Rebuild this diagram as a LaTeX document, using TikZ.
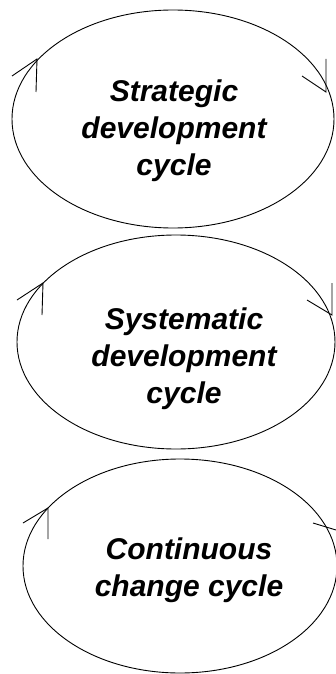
\documentclass[tikz,border=0pt]{standalone}
\usepackage{fontspec}
\setmainfont{Liberation Sans}
\begin{document}
\begin{tikzpicture}[x=1pt,y=-1pt,
  cyc/.style={draw=black,line width=0.9pt},
  lbl/.style={align=center,inner sep=0pt,font=\fontsize{30}{37}\selectfont\bfseries\itshape},
  tick/.style={draw=black,line width=0.9pt}]
\useasboundingbox (0,0) rectangle (336,674);

% strategic cycle
\draw[cyc] (173,119) ellipse [x radius=161, y radius=109];
\node[lbl] (s1) at (174,131) {Strategic\\development\\cycle};
\coordinate (a1) at (37,59);
\draw[tick] (12,76) -- (a1) -- (36,92);
\coordinate (b1) at (326,92);
\draw[tick] (302,76) -- (b1) -- (326,59);

% systematic cycle
\draw[cyc] (176,342) ellipse [x radius=159, y radius=107];
\node[lbl] (s2) at (184,359) {Systematic\\development\\cycle};
\coordinate (a2) at (43,283);
\draw[tick] (17,300) -- (a2) -- (42,315);
\coordinate (b2) at (332,315);
\draw[tick] (307,300) -- (b2) -- (332,283);

% continuous change cycle
\draw[cyc] (180,566) ellipse [x radius=157, y radius=107];
\node[lbl] (s3) at (189,570) {Continuous\\change cycle};
\coordinate (a3) at (48,508);
\draw[tick] (23,523) -- (a3) -- (48,539);
\coordinate (b3) at (336,530);
\draw[tick] (313,523) -- (b3);
\end{tikzpicture}
\end{document}
